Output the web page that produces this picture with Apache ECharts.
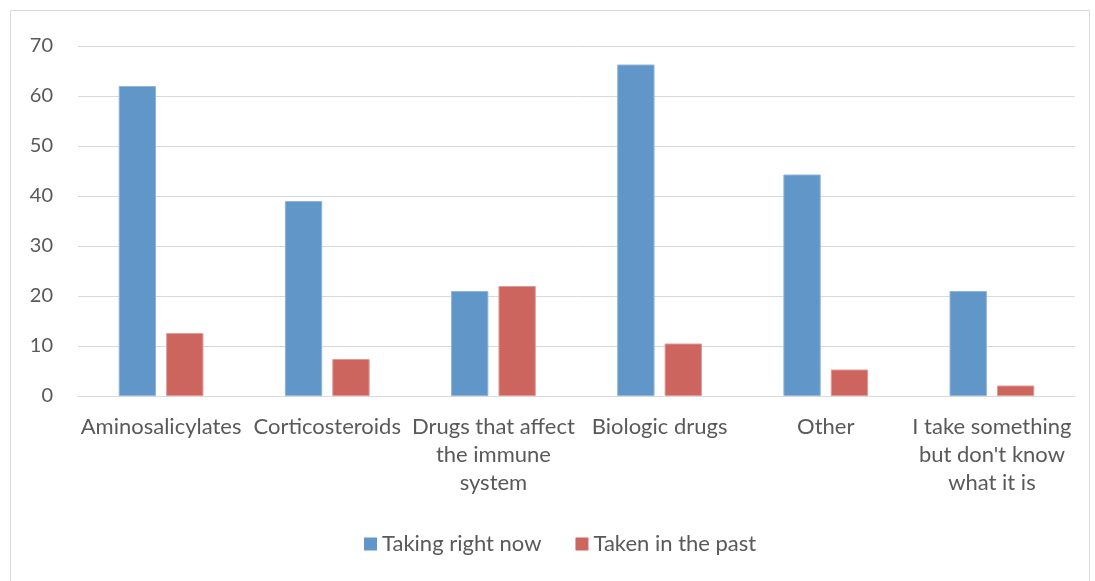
<!DOCTYPE html>
<html><head><meta charset="utf-8">
<script src="https://cdn.jsdelivr.net/npm/echarts@6/dist/echarts.min.js"></script>
<style>html,body{margin:0;padding:0;background:#fff}#c{width:1095px;height:581px}</style>
</head><body><div id="c"></div>
<script>
const categories = ["Aminosalicylates","Corticosteroids","Drugs that affect\nthe immune\nsystem","Biologic drugs","Other","I take something\nbut don't know\nwhat it is"];
const takingNow = [62, 39, 21, 66.3, 44.3, 21];
const takenPast = [12.6, 7.4, 22, 10.5, 5.3, 2.1];
const seriesNames = ["Taking right now","Taken in the past"];
const yTicks = {min:0, max:70, interval:10};

const chart = echarts.init(document.getElementById('c'));
const font = 'Lato';
chart.setOption({
  animation:false,
  graphic:[{type:'rect', shape:{x:10.5,y:10.5,width:1079,height:580}, style:{fill:'none', stroke:'#d9d9d9', lineWidth:1}}],
  grid:{left:78, right:20, top:46, bottom:185},
  legend:{top:528, left:359, itemWidth:13, itemHeight:13, itemGap:34, icon:'rect',
    itemStyle:{borderWidth:0},
    textStyle:{fontFamily:font, fontSize:22, color:'#595959', padding:[0,0,0,0]}, data:seriesNames},
  xAxis:{type:'category', data:categories,
    axisLine:{lineStyle:{color:'#d9d9d9', width:1}}, axisTick:{show:false},
    axisLabel:{interval:0, fontFamily:font, fontSize:22, color:'#595959', lineHeight:28, margin:17}},
  yAxis:{type:'value', min:yTicks.min, max:yTicks.max, interval:yTicks.interval,
    axisLine:{show:false}, axisTick:{show:false},
    splitLine:{lineStyle:{color:'#d9d9d9', width:1}},
    axisLabel:{fontFamily:font, fontSize:20, color:'#595959', margin:25}},
  series:[
    {name:seriesNames[0], type:'bar', data:takingNow, barGap:'27%', barCategoryGap:'49%',
     itemStyle:{color:'#6096C8', borderColor:'#8fb5dc', borderWidth:1}},
    {name:seriesNames[1], type:'bar', data:takenPast,
     itemStyle:{color:'#CD655F', borderColor:'#e09a96', borderWidth:1}}
  ]
});
</script></body></html>
